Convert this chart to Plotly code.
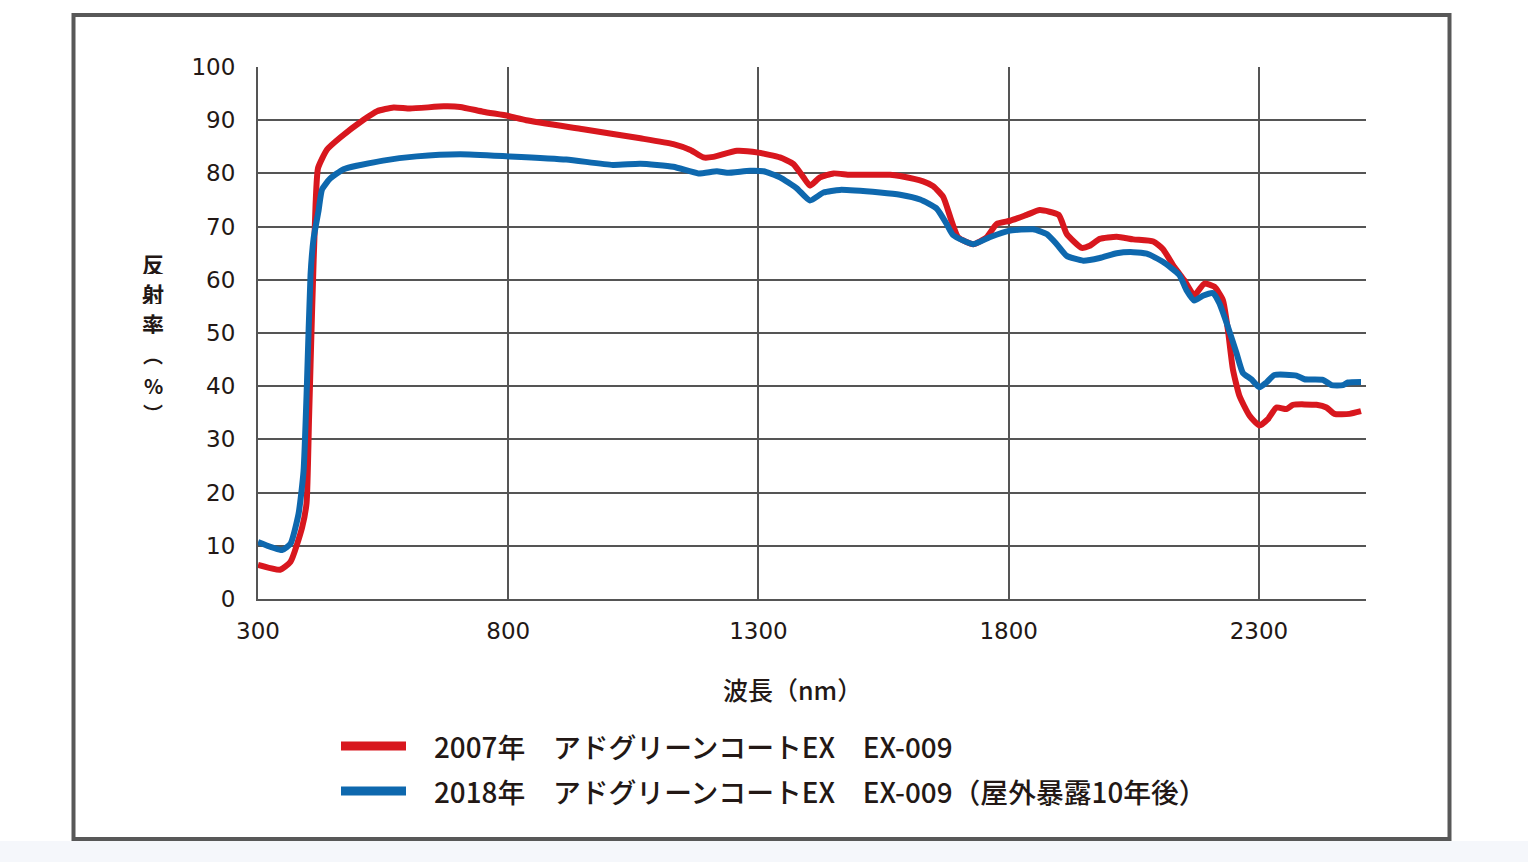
import plotly.graph_objects as go

# ---- data ----
red_x = [300, 344, 365, 388, 397, 402, 408, 415, 420, 438, 465, 511, 538, 571, 604, 671, 704, 750, 800, 836,
         950, 1064, 1130, 1164, 1190, 1210, 1257, 1300, 1343, 1370, 1390, 1403, 1423, 1450, 1483, 1563, 1583,
         1629, 1649, 1669, 1686, 1699, 1729, 1756, 1776, 1803, 1836, 1862, 1900, 1916, 1946, 1962, 1982, 2016,
         2049, 2089, 2108, 2131, 2151, 2171, 2191, 2211, 2228, 2238, 2248, 2261, 2281, 2301, 2318, 2335, 2355,
         2368, 2415, 2435, 2451, 2481, 2504]
red_y = [6.4, 5.5, 7.0, 13.4, 18, 34, 54, 74, 81, 84.5, 86.8, 90.1, 91.7, 92.4, 92.2, 92.6, 92.5, 91.6, 90.8, 90.0,
         88.3, 86.6, 85.5, 84.4, 83.0, 83.1, 84.25, 83.9, 83.0, 81.75, 79.25, 77.7, 79.25, 80.0, 79.75, 79.75, 79.5,
         78.5, 77.6, 75.6, 71.0, 68.0, 66.7, 68.0, 70.5, 71.1, 72.2, 73.1, 72.2, 68.6, 66.0, 66.4, 67.7, 68.1,
         67.6, 67.2, 65.8, 62.4, 59.9, 57.1, 59.3, 58.7, 56.2, 50.6, 43.2, 38.2, 34.5, 32.6, 33.8, 36.0, 35.7,
         36.5, 36.5, 36.0, 34.8, 34.8, 35.3]

blue_x = [300, 348, 365, 381, 391, 398, 405, 411, 421, 428, 444, 471, 550, 617, 704, 800, 916, 1009, 1064, 1130,
          1180, 1217, 1237, 1283, 1310, 1343, 1376, 1403, 1430, 1463, 1543, 1583, 1623, 1656, 1676, 1689, 1729,
          1762, 1800, 1849, 1876, 1896, 1916, 1949, 1982, 2016, 2049, 2076, 2108, 2141, 2155, 2171, 2188, 2208,
          2221, 2238, 2255, 2268, 2285, 2301, 2315, 2331, 2375, 2391, 2428, 2445, 2468, 2478, 2504]
blue_y = [10.7, 9.2, 10.4, 16, 24, 41, 61, 67.7, 73, 77, 79, 80.8, 82.4, 83.2, 83.6, 83.2, 82.6, 81.6, 81.8, 81.25,
          80.0, 80.4, 80.1, 80.5, 80.4, 79.25, 77.25, 74.9, 76.4, 76.9, 76.4, 76.0, 75.1, 73.4, 70.5, 68.4, 66.7,
          68.0, 69.2, 69.5, 68.6, 66.7, 64.5, 63.6, 64.1, 65.0, 65.2, 64.9, 63.4, 60.9, 58.1, 56.1, 57.0, 57.5,
          55.6, 51.2, 46.3, 42.5, 41.3, 39.8, 40.7, 42.1, 42.0, 41.3, 41.2, 40.2, 40.2, 40.7, 40.8]

x_ticks = [300, 800, 1300, 1800, 2300]
y_ticks = [0, 10, 20, 30, 40, 50, 60, 70, 80, 90, 100]
series_names = ["2007年　アドグリーンコートEX　EX-009", "2018年　アドグリーンコートEX　EX-009（屋外暴露10年後）"]
x_title = "波長（nm）"
y_title_chars = ["反", "射", "率", "︵", "%", "︶"]

RED = "#d8171e"
BLUE = "#0e68ae"
GRID = "#555555"
TXT = "#231815"

# pixel geometry helpers (plot area: x 258..1366, y 67..599)
L, R, T, B = 258, 1366, 67, 599
def px(xp):
    return (xp - L) / (R - L)
def py(yp):
    return (B - yp) / (B - T)

fig = go.Figure()
fig.add_trace(go.Scatter(x=red_x, y=red_y, mode="lines", name=series_names[0],
                         line=dict(color=RED, width=6, shape="spline", smoothing=0.5), showlegend=False))
fig.add_trace(go.Scatter(x=blue_x, y=blue_y, mode="lines", name=series_names[1],
                         line=dict(color=BLUE, width=6, shape="spline", smoothing=0.5), showlegend=False))

font_num = "'DejaVu Sans', sans-serif"
font_jp = "'Noto Sans CJK JP', sans-serif"

fig.update_layout(
    width=1528, height=862,
    margin=dict(l=L, r=1528 - R, t=T, b=862 - B),
    paper_bgcolor="white", plot_bgcolor="white",
    xaxis=dict(range=[300, 2514], tickvals=x_ticks, showgrid=True, gridcolor=GRID, gridwidth=2,
               zeroline=False, showline=True, linecolor=GRID, linewidth=2, ticks="",
               tickfont=dict(family=font_num, size=23, color=TXT), ticklabelstandoff=10),
    yaxis=dict(range=[0, 100], tickvals=y_ticks, showgrid=True, gridcolor=GRID, gridwidth=2,
               zeroline=False, showline=True, linecolor=GRID, linewidth=2, ticks="",
               tickfont=dict(family=font_num, size=23, color=TXT), ticklabelstandoff=16),
    showlegend=False,
)

shapes = []
# light page background at bottom
shapes.append(dict(type="rect", xref="paper", yref="paper", x0=px(0), x1=px(1528), y0=py(862), y1=py(841),
                   fillcolor="#f5f7fb", line=dict(width=0), layer="below"))
# outer frame
shapes.append(dict(type="rect", xref="paper", yref="paper", x0=px(73.5), x1=px(1449.5), y0=py(839), y1=py(15),
                   line=dict(color="#585858", width=4), fillcolor="rgba(0,0,0,0)", layer="above"))
# legend swatches
for yy, col in [(746, RED), (791, BLUE)]:
    shapes.append(dict(type="line", xref="paper", yref="paper", x0=px(341), x1=px(406), y0=py(yy), y1=py(yy),
                       line=dict(color=col, width=9)))
fig.update_layout(shapes=shapes)

annotations = []
for yy, name in [(746, series_names[0]), (791, series_names[1])]:
    annotations.append(dict(text=name, xref="paper", yref="paper", x=px(432), y=py(yy), xanchor="left",
                            yanchor="middle", showarrow=False,
                            font=dict(family=font_jp, size=27.8, color=TXT, weight=500)))
annotations.append(dict(text=x_title, xref="paper", yref="paper", x=px(792), y=py(689), xanchor="center",
                        yanchor="middle", showarrow=False,
                        font=dict(family=font_jp, size=25, color=TXT, weight=500)))
ytitle_pos = [263, 293, 323, 354, 385, 413]
ytitle_size = [22, 22, 22, 20, 20, 20]
for ch, yy, sz in zip(y_title_chars, ytitle_pos, ytitle_size):
    annotations.append(dict(text=ch, xref="paper", yref="paper", x=px(153), y=py(yy),
                            xanchor="center", yanchor="middle", showarrow=False, height=22,
                            font=dict(family=font_jp, size=sz, color=TXT, weight=700)))
fig.update_layout(annotations=annotations)

fig.write_html("out.html")
